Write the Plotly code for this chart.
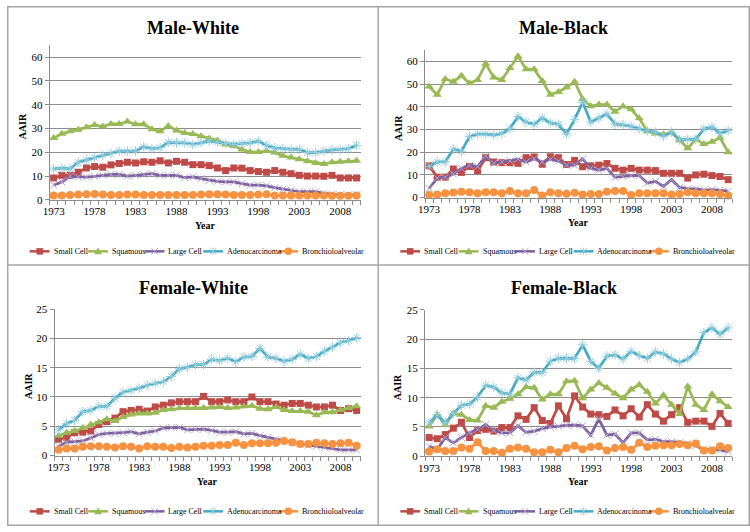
import plotly.graph_objects as go

years = list(range(1973, 2011))
series_names = ["Small Cell", "Squamous", "Large Cell", "Adenocarcinoma", "Bronchioloalveolar"]
panel_titles = ["Male-White", "Male-Black", "Female-White", "Female-Black"]
x_tick_labels = [1973, 1978, 1983, 1988, 1993, 1998, 2003, 2008]
y_ticks_male = [0, 10, 20, 30, 40, 50, 60]
y_ticks_female = [0, 5, 10, 15, 20, 25]

# Male-White
mw_small = [9.2,10.3,10.3,11.6,13.4,14.0,13.7,14.7,15.3,15.8,15.5,16.0,15.8,16.4,15.5,16.2,15.8,14.8,14.8,14.4,
            13.4,12.3,13.4,13.3,12.3,11.9,11.6,12.3,11.6,11.0,10.3,10.0,10.0,9.9,10.3,9.2,9.2,9.2]
mw_squam = [26.0,27.8,28.8,29.5,30.5,31.5,30.8,31.9,31.9,32.9,31.8,31.8,29.7,28.8,31.1,29.2,28.1,27.7,26.7,25.8,
            25.0,23.3,22.6,21.2,20.1,20.1,20.5,19.9,18.5,17.8,17.1,16.2,15.5,15.1,15.8,16.0,16.2,16.4]
mw_large = [6.2,7.5,9.9,9.6,9.6,9.9,10.3,10.7,10.7,10.0,10.3,10.5,11.0,10.3,10.3,10.3,9.3,9.6,8.9,8.2,
            7.8,7.5,7.5,6.8,6.2,6.2,5.9,5.1,4.5,4.1,3.4,3.4,3.4,2.7,2.3,2.1,2.1,2.1]
mw_adeno = [13.0,13.3,13.0,15.8,16.8,17.8,18.8,19.5,20.5,20.5,20.5,22.3,21.5,21.9,24.2,24.0,24.0,23.3,24.0,24.7,
            24.2,23.7,23.3,23.7,24.0,24.7,22.9,21.9,21.5,21.2,21.2,19.9,19.9,20.5,21.0,21.2,21.5,22.9]
mw_bronch = [1.8,1.8,2.0,2.2,2.3,2.5,2.2,2.0,2.0,2.2,2.2,2.0,2.0,2.0,2.0,2.0,2.0,2.0,2.2,2.3,
             2.3,2.2,2.0,2.0,2.0,2.2,2.3,1.8,1.8,1.8,1.8,1.8,1.8,1.8,1.7,1.7,1.7,1.8]

# Male-Black
mb_small = [14.0,9.0,9.0,12.6,11.1,13.7,11.9,17.6,15.7,15.4,15.4,15.1,17.6,17.9,14.7,18.0,17.6,
            14.6,16.4,13.6,14.0,14.3,15.0,12.9,12.1,12.9,12.1,12.1,11.9,10.7,10.7,10.7,8.6,10.0,10.3,9.7,9.3,7.9]
mb_squam = [49.0,45.4,52.3,51.1,53.7,50.4,51.9,59.0,53.0,51.9,57.1,62.3,56.6,56.6,51.4,45.4,46.6,
            48.6,51.1,43.5,40.3,41.0,41.0,37.9,40.3,38.9,35.0,29.3,28.3,27.9,28.6,25.4,21.7,25.7,23.6,24.6,26.4,20.0]
mb_large = [4.0,8.6,9.0,10.4,12.9,14.3,13.7,18.3,15.1,15.7,16.1,16.9,15.7,17.1,15.7,16.9,16.1,
            14.3,14.3,17.1,12.9,12.1,12.9,8.9,9.3,9.7,9.7,6.4,7.1,5.0,7.9,4.5,3.9,3.8,3.3,3.5,3.2,2.8]
mb_adeno = [13.7,15.7,15.7,21.4,20.4,26.9,28.0,28.0,27.6,28.3,30.4,35.7,33.3,32.3,35.1,32.9,32.3,
            28.0,34.5,42.0,33.3,35.1,36.9,32.4,32.1,31.4,30.4,29.4,28.9,27.1,28.9,25.4,25.7,25.7,30.3,31.1,28.3,29.5]
mb_bronch = [1.1,1.4,1.9,2.2,2.6,2.3,1.9,2.3,2.3,1.9,2.9,1.9,1.9,3.3,0.9,2.3,1.9,
             1.7,2.1,1.4,1.6,1.6,2.6,2.9,2.9,1.1,1.9,1.9,1.9,1.9,1.4,1.6,2.3,1.9,1.9,1.9,1.6,0.9]

# Female-White
fw_small = [2.8,3.1,3.9,4.0,4.2,5.3,5.8,6.4,7.5,7.7,7.9,7.6,8.3,8.6,9.0,9.2,9.2,9.2,10.1,9.2,
            9.2,9.5,9.2,9.2,10.0,9.2,9.2,8.8,8.6,8.9,8.9,8.6,8.3,8.3,8.6,7.7,8.0,7.7]
fw_squam = [3.4,3.9,4.2,4.7,5.3,5.7,6.2,5.9,6.6,7.0,7.2,7.2,7.3,7.8,7.9,8.1,8.1,8.1,8.1,8.2,
            8.3,8.1,8.2,8.4,8.5,8.0,7.9,8.3,7.8,7.6,7.6,7.5,6.9,7.4,7.4,7.8,8.1,8.4]
fw_large = [1.6,2.3,2.4,2.5,3.0,3.6,3.8,3.8,3.9,4.1,3.7,4.0,4.2,4.7,4.8,4.8,4.4,4.5,4.5,4.3,
            4.0,4.0,4.1,3.7,3.8,3.4,3.1,2.7,2.5,2.3,2.0,1.8,1.6,1.4,1.3,1.0,1.0,1.0]
fw_adeno = [4.4,5.5,6.0,7.5,7.7,8.4,8.4,9.8,10.8,11.1,11.5,12.0,12.3,12.6,13.5,14.8,15.1,15.5,15.5,16.4,
            16.2,16.6,16.0,16.8,16.9,18.3,16.8,16.6,16.1,16.4,17.3,16.6,16.9,17.8,18.5,19.3,19.6,20.1]
fw_bronch = [1.0,1.2,1.2,1.5,1.6,1.6,1.5,1.4,1.6,1.5,1.2,1.6,1.5,1.5,1.3,1.5,1.4,1.5,1.7,1.7,
             1.8,1.8,2.2,1.8,2.1,2.1,2.1,2.2,2.5,2.3,2.0,2.0,2.2,2.1,2.0,2.1,2.2,1.7]

# Female-Black
fb_small = [3.2,3.0,3.7,4.8,5.8,3.2,4.4,4.6,4.3,4.9,4.9,6.9,6.3,8.3,6.1,5.6,8.6,
            6.4,10.3,8.4,7.2,7.1,6.8,7.9,6.9,8.1,6.7,8.8,7.2,6.0,7.1,8.3,5.8,6.0,6.0,5.1,7.3,5.6]
fb_squam = [5.1,7.1,5.4,7.3,7.1,6.2,6.1,8.6,8.3,9.3,9.8,10.6,11.8,11.7,9.7,10.6,10.6,
            12.8,12.9,9.9,11.4,12.5,11.7,10.7,9.9,11.4,12.2,11.0,9.0,10.4,8.8,7.2,11.9,8.8,7.9,10.6,9.4,8.4]
fb_large = [1.7,1.2,3.2,2.3,3.2,4.0,4.6,5.4,4.4,4.0,4.0,5.2,4.1,4.3,4.7,5.0,5.1,
            5.3,5.3,5.2,3.6,6.4,3.6,3.8,2.3,4.0,4.0,2.8,2.9,2.5,2.5,2.3,2.2,1.8,1.1,1.2,1.1,0.8]
fb_adeno = [5.7,7.1,5.7,7.3,8.7,8.9,10.1,12.1,11.8,10.8,10.6,13.4,13.0,14.3,14.3,16.2,16.7,
            16.7,16.7,19.0,16.2,15.0,17.1,17.3,16.6,17.9,17.2,16.7,17.8,17.5,16.6,16.0,16.6,17.8,21.1,21.9,20.8,21.9]
fb_bronch = [0.8,1.2,0.9,0.9,1.5,1.3,2.4,0.9,0.9,0.6,1.3,1.5,1.3,0.7,0.7,1.1,0.7,
             1.4,1.8,1.2,1.6,1.7,1.0,1.4,1.6,1.1,2.3,1.6,1.8,1.9,1.9,2.1,1.9,2.2,1.0,1.0,1.7,1.4]

panels_data = [
    [mw_small, mw_squam, mw_large, mw_adeno, mw_bronch],
    [mb_small, mb_squam, mb_large, mb_adeno, mb_bronch],
    [fw_small, fw_squam, fw_large, fw_adeno, fw_bronch],
    [fb_small, fb_squam, fb_large, fb_adeno, fb_bronch],
]

W, H = 750, 532
FONT = "Liberation Serif"

def px(p):
    return p / W

def py(p):
    return 1 - p / H

line_colors = ["#BE4B48", "#98B954", "#7D60A0", "#46AAC5", "#F69240"]
marker_styles = [
    dict(symbol="square", size=7, color="#BE4B48"),
    dict(symbol="triangle-up", size=8, color="#98B954"),
    dict(symbol="x-thin-open", size=7, color="#B3A2C7", line=dict(color="#B3A2C7", width=1)),
    dict(symbol="asterisk-open", size=8, color="#93CDDD", line=dict(color="#93CDDD", width=1)),
    dict(symbol="circle", size=8, color="#F69240"),
]

# plot areas in pixels: (left, right, top, bottom), y max
panel_boxes = [
    (43, 357, 40.2, 198.3, 65, y_ticks_male),
    (422, 732, 45.2, 196.0, 65, y_ticks_male),
    (48, 357, 310.0, 460.0, 25, y_ticks_female),
    (422, 732, 310.7, 460.7, 25, y_ticks_female),
]
panel_offsets = [(0, 0), (374, 0), (0, 266), (374, 266)]

fig = go.Figure()
layout = dict(
    width=W, height=H, margin=dict(l=0, r=0, t=0, b=0),
    paper_bgcolor="white", plot_bgcolor="white", showlegend=False,
    font=dict(family=FONT, color="black"),
)
annotations = []
shapes = []

grid_col = "#8C8C8C"
for i, (l, r, t, b, ymax, yt) in enumerate(panel_boxes):
    n = "" if i == 0 else str(i + 1)
    layout["xaxis" + n] = dict(
        domain=[px(l), px(r)], anchor="y" + n, range=[1972.5, 2010.5],
        tickmode="array", tickvals=x_tick_labels, ticktext=[str(v) for v in x_tick_labels],
        ticks="", showline=True, linecolor=grid_col, linewidth=1, showgrid=False, zeroline=False,
        tickfont=dict(family=FONT, size=11, color="black"),
        minor=dict(ticks="outside", tick0=1972.5, dtick=1, ticklen=4, tickcolor=grid_col, showgrid=False),
        ticklabelstandoff=1,
    )
    layout["yaxis" + n] = dict(
        domain=[py(b), py(t)], anchor="x" + n, range=[0, ymax],
        tickmode="array", tickvals=yt, ticks="outside", ticklen=4, tickcolor=grid_col,
        showline=True, linecolor=grid_col, linewidth=1, showgrid=True, gridcolor=grid_col, gridwidth=1,
        zeroline=False, tickfont=dict(family=FONT, size=11, color="black"),
    )
    for j, vals in enumerate(panels_data[i]):
        fig.add_trace(go.Scatter(
            x=years, y=vals, name=series_names[j], mode="lines+markers",
            line=dict(color=line_colors[j], width=2.75), marker=marker_styles[j],
            xaxis="x" + n, yaxis="y" + n, showlegend=False, cliponaxis=False,
        ))
    ox, oy = panel_offsets[i]
    annotations.append(dict(text="<b>%s</b>" % panel_titles[i], x=px(188 + ox), y=py(22 + oy),
                            xref="paper", yref="paper", showarrow=False, xanchor="center", yanchor="middle",
                            font=dict(family=FONT, size=18, color="black")))
    annotations.append(dict(text="<b>Year</b>", x=px((l + r) / 2), y=py(b + 26), xref="paper", yref="paper",
                            showarrow=False, xanchor="center", yanchor="middle",
                            font=dict(family=FONT, size=10, color="black")))
    annotations.append(dict(text="<b>AAIR</b>", x=px(l - 27), y=py((t + b) / 2 + 4), xref="paper", yref="paper",
                            showarrow=False, xanchor="center", yanchor="middle", textangle=-90,
                            font=dict(family=FONT, size=10, color="black")))
    # legend
    ly = 251 + oy
    key_starts = [23, 82, 139, 198, 274]
    for j, ks in enumerate(key_starts):
        x0 = ks + ox
        x1 = x0 + 20
        c = line_colors[j]
        shapes.append(dict(type="line", xref="paper", yref="paper", x0=px(x0), x1=px(x1), y0=py(ly), y1=py(ly),
                           line=dict(color=c, width=2.5)))
        cx = (x0 + x1) / 2
        s = 3.3
        if j == 0:
            shapes.append(dict(type="rect", xref="paper", yref="paper", x0=px(cx - s), x1=px(cx + s),
                               y0=py(ly + s), y1=py(ly - s), fillcolor=c, line=dict(width=0)))
        elif j == 1:
            path = "M%f,%f L%f,%f L%f,%f Z" % (px(cx - 4), py(ly + 3), px(cx + 4), py(ly + 3), px(cx), py(ly - 4))
            shapes.append(dict(type="path", xref="paper", yref="paper", path=path, fillcolor=c, line=dict(width=0)))
        elif j == 2:
            mc = "#B3A2C7"
            path = "M%f,%f L%f,%f M%f,%f L%f,%f" % (px(cx - s), py(ly - s), px(cx + s), py(ly + s),
                                                    px(cx - s), py(ly + s), px(cx + s), py(ly - s))
            shapes.append(dict(type="path", xref="paper", yref="paper", path=path, line=dict(color=mc, width=1)))
        elif j == 3:
            mc = "#93CDDD"
            path = "M%f,%f L%f,%f M%f,%f L%f,%f M%f,%f L%f,%f" % (
                px(cx - s), py(ly - s), px(cx + s), py(ly + s),
                px(cx - s), py(ly + s), px(cx + s), py(ly - s),
                px(cx), py(ly - s - 0.5), px(cx), py(ly + s + 0.5))
            shapes.append(dict(type="path", xref="paper", yref="paper", path=path, line=dict(color=mc, width=1)))
        else:
            shapes.append(dict(type="circle", xref="paper", yref="paper", x0=px(cx - 3.8), x1=px(cx + 3.8),
                               y0=py(ly + 3.8), y1=py(ly - 3.8), fillcolor=c, line=dict(width=0)))
        annotations.append(dict(text=series_names[j], x=px(x1 + 2), y=py(ly), xref="paper", yref="paper",
                                showarrow=False, xanchor="left", yanchor="middle",
                                font=dict(family=FONT, size=8, color="black")))

bc = "#A6A6A6"
shapes.append(dict(type="rect", xref="paper", yref="paper", x0=px(0.75), x1=px(749.25), y0=py(531.25), y1=py(0.75),
                   line=dict(color=bc, width=1.5)))
shapes.append(dict(type="line", xref="paper", yref="paper", x0=px(374.7), x1=px(374.7), y0=0, y1=1,
                   line=dict(color=bc, width=1.5)))
shapes.append(dict(type="line", xref="paper", yref="paper", x0=0, x1=1, y0=py(265), y1=py(265),
                   line=dict(color=bc, width=1.5)))

layout["annotations"] = annotations
layout["shapes"] = shapes
fig.update_layout(**layout)
fig.write_html("out.html", config={"displayModeBar": False},
               post_script="document.body.style.margin='0px';document.body.style.overflow='hidden';")
